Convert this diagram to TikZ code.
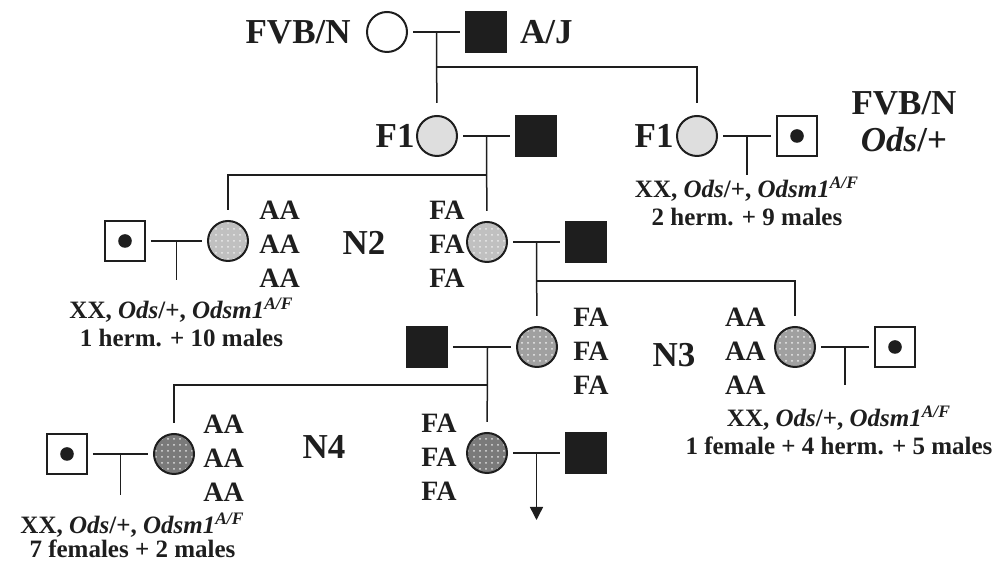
\documentclass[tikz,border=0pt]{standalone}
\usepackage{fontspec}
\setmainfont{Liberation Serif}
\usetikzlibrary{arrows.meta,positioning,calc,patterns}
\definecolor{ink}{HTML}{1E1E1E}
\definecolor{fone}{HTML}{DEDEDE}
\definecolor{ntwo}{HTML}{C0C0C0}
\definecolor{nthree}{HTML}{A0A0A0}
\definecolor{nfour}{HTML}{7A7A7A}
\tikzset{
  >=Latex,
  every node/.style={text=ink},
  female/.style={circle,draw=ink,line width=1pt,minimum size=20pt,inner sep=0pt},
  fvbfem/.style={female,fill=white},
  fonefem/.style={female,fill=fone},
  ntwofem/.style={female,preaction={fill=ntwo},pattern=dots,pattern color=white!70!ntwo},
  nthreefem/.style={female,preaction={fill=nthree},pattern=dots,pattern color=white!80!nthree},
  nfourfem/.style={female,preaction={fill=nfour},pattern=dots,pattern color=white!75!nfour},
  male/.style={rectangle,draw=ink,line width=0.8pt,minimum size=20pt,inner sep=0pt},
  ajmale/.style={male,fill=ink},
  odsmale/.style={male,fill=white,path picture={\fill[ink] (path picture bounding box.center) circle (3.4pt);}},
  mate/.style={draw=ink,line width=0.75pt,shorten <=2.5pt,shorten >=2.5pt},
  descent/.style={draw=ink,line width=0.75pt,shorten >=5pt},
  gen/.style={font=\fontsize{17.5}{18.5}\selectfont\bfseries,inner sep=0pt,align=center},
  geno/.style={font=\fontsize{14}{17}\selectfont\bfseries,inner sep=0pt,align=left},
  litter/.style={font=\fontsize{12.5}{14}\selectfont\bfseries,inner sep=0pt,align=center},
}
\newcommand{\litline}{XX, \textit{Ods}/+, \textit{Odsm1}\textsuperscript{\textit{A/F}}}

\begin{document}
\begin{tikzpicture}[x=0.5pt,y=-0.5pt]
\useasboundingbox (0,0) rectangle (996,565);

% parents
\node[fvbfem] (p0f) at (387,32) {};
\node[ajmale] (p0m) at (486,32) {};
\node[gen,left=7.5pt of p0f] (p0ftxt) {FVB/N};
\node[gen,right=6.5pt of p0m] (p0mtxt) {A/J};

% F1
\node[fonefem] (f1a) at (437,136) {};
\node[ajmale] (f1am) at (536,136) {};
\node[gen,left=0.5pt of f1a] (f1atxt) {F1};
\node[fonefem] (f1b) at (697,136) {};
\node[odsmale] (f1bm) at (797,136) {};
\node[gen,left=1pt of f1b] (f1btxt) {F1};
\node[gen] (f1bmtxt) at (904,122) {FVB/N\\\textit{Ods}/+};

% N2
\node[ntwofem] (n2a) at (228,241) {};
\node[odsmale] (n2am) at (125,241) {};
\node[geno,right=5pt of n2a,yshift=-1.5pt] (n2ageno) {AA\\AA\\AA};
\node[ntwofem] (n2b) at (487,242) {};
\node[ajmale] (n2bm) at (586,242) {};
\node[geno,align=right,left=0.5pt of n2b,yshift=-1pt] (n2bgeno) {FA\\FA\\FA};
\node[gen] (n2txt) at (364,243) {N2};

% N3
\node[nthreefem] (n3a) at (537,347) {};
\node[ajmale] (n3am) at (427,347) {};
\node[geno,right=7.5pt of n3a,yshift=-2pt] (n3ageno) {FA\\FA\\FA};
\node[nthreefem] (n3b) at (795,347) {};
\node[odsmale] (n3bm) at (895,347) {};
\node[geno,align=right,left=4pt of n3b,yshift=-2pt] (n3bgeno) {AA\\AA\\AA};
\node[gen] (n3txt) at (674,355) {N3};

% N4
\node[nfourfem] (n4a) at (174,454) {};
\node[odsmale] (n4am) at (67,454) {};
\node[geno,right=4pt of n4a,yshift=-2pt] (n4ageno) {AA\\AA\\AA};
\node[nfourfem] (n4b) at (487,453) {};
\node[ajmale] (n4bm) at (586,453) {};
\node[geno,align=right,left=4.5pt of n4b,yshift=-2pt] (n4bgeno) {FA\\FA\\FA};
\node[gen] (n4txt) at (324,447) {N4};

% matings and sibships
\coordinate (p0j) at ($(p0f)!0.5!(p0m)$);
\coordinate (p0s) at ($(p0j)+(0,35)$);
\draw[mate] (p0f) -- (p0m);
\draw[descent,shorten >=6pt] (p0j) -- (f1a);
\draw[descent,shorten >=6pt] (p0s) -| (f1b);

\coordinate (f1j) at ($(f1a)!0.5!(f1am)$);
\coordinate (f1s) at ($(f1j)+(0,39)$);
\draw[mate] (f1a) -- (f1am);
\draw[descent] (f1j) -- (n2b);
\draw[descent] (f1s) -| (n2a);

\coordinate (f1bj) at ($(f1b)!0.5!(f1bm)$);
\coordinate (f1bo) at ($(f1bj)+(0,39)$);
\draw[mate] (f1b) -- (f1bm);
\draw[descent,shorten >=0pt] (f1bj) -- (f1bo);
\node[litter,below=1pt of f1bo] (f1blit) {\litline\\2 herm. + 9 males};

\coordinate (n2aj) at ($(n2am)!0.5!(n2a)$);
\coordinate (n2ao) at ($(n2aj)+(0,39)$);
\draw[mate] (n2am) -- (n2a);
\draw[descent,shorten >=0pt] (n2aj) -- (n2ao);
\node[litter,below=9pt of n2ao,xshift=2.5pt] (n2alit) {\litline\\1 herm. + 10 males};

\coordinate (n2bj) at ($(n2b)!0.5!(n2bm)$);
\coordinate (n2bs) at ($(n2bj)+(0,39)$);
\draw[mate] (n2b) -- (n2bm);
\draw[descent] (n2bj) -- (n3a);
\draw[descent] (n2bs) -| (n3b);

\coordinate (n3aj) at ($(n3am)!0.55!(n3a)$);
\coordinate (n3as) at ($(n3aj)+(0,38)$);
\draw[mate] (n3am) -- (n3a);
\draw[descent] (n3aj) -- (n4b);
\draw[descent] (n3as) -| (n4a);

\coordinate (n3bj) at ($(n3b)!0.5!(n3bm)$);
\coordinate (n3bo) at ($(n3bj)+(0,38)$);
\draw[mate] (n3b) -- (n3bm);
\draw[descent,shorten >=0pt] (n3bj) -- (n3bo);
\node[litter,below=10.5pt of n3bo,xshift=-3pt] (n3blit) {\litline\\1 female + 4 herm. + 5 males};

\coordinate (n4aj) at ($(n4am)!0.5!(n4a)$);
\coordinate (n4ao) at ($(n4aj)+(0,41)$);
\draw[mate] (n4am) -- (n4a);
\draw[descent,shorten >=0pt] (n4aj) -- (n4ao);
\node[litter,font=\fontsize{12.5}{12}\selectfont\bfseries,below=9pt of n4ao,xshift=6pt] (n4alit) {\litline\\7 females + 2 males};

\coordinate (n4bj) at ($(n4b)!0.5!(n4bm)$);
\coordinate (n4bo) at ($(n4bj)+(0,67)$);
\draw[mate] (n4b) -- (n4bm);
\draw[descent,shorten >=0pt,-{Triangle[width=6.5pt,length=6.5pt]}] (n4bj) -- (n4bo);

\end{tikzpicture}
\end{document}
